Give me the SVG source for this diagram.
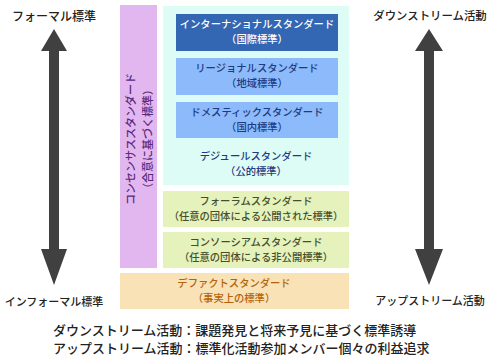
<svg xmlns="http://www.w3.org/2000/svg" width="490" height="360" viewBox="0 0 490 360">
<style>
text{font-family:"Noto Sans CJK JP","Noto Sans",sans-serif;}
.side{fill:#222;text-anchor:middle;font-weight:500;}
.bx{font-size:10.3px;text-anchor:middle;font-weight:500;}
.w{fill:#ffffff;}
.nv{fill:#1e3a80;}
.gr{fill:#454f2c;}
.or{fill:#b4620c;}
.pu{fill:#5a2a80;font-size:11px;text-anchor:middle;font-weight:500;}
.foot{font-size:13px;fill:#222;font-weight:500;}
.arrow{fill:#404040;}
</style>
<rect width="490" height="360" fill="#ffffff"/>
<g id="arrows">
<path class="arrow" d="M54,29 L67,51 L59,51 L59,249 L67,249 L54,285 L41,249 L49,249 L49,51 L41,51 Z"/>
<path class="arrow" d="M429,29 L443,51 L434,51 L434,249 L443,249 L429,285 L415,249 L424,249 L424,51 L415,51 Z"/>
</g>
<g id="labels">
<text class="side" x="54" y="21" font-size="12">フォーマル標準</text>
<text class="side" x="54" y="306" font-size="11">インフォーマル標準</text>
<text class="side" x="430" y="20" font-size="11.4">ダウンストリーム活動</text>
<text class="side" x="430" y="305" font-size="11">アップストリーム活動</text>
</g>
<g id="consensus">
<rect x="120" y="5" width="37" height="263" fill="#e2b6ee"/>
<g transform="translate(139,139) rotate(-90)">
<text class="pu" x="0" y="-4">コンセンサススタンダード</text>
<text class="pu" x="0" y="13">（合意に基づく標準）</text>
</g>
</g>
<g id="dejure">
<rect x="163" y="6" width="186" height="179" fill="#ddfcf6"/>
<text class="bx nv" x="256" y="160">デジュールスタンダード</text>
<text class="bx nv" x="256" y="175">（公的標準）</text>
</g>
<g id="international">
<rect x="176" y="14" width="162" height="37" fill="#3366b3"/>
<text class="bx w" x="257" y="28">インターナショナルスタンダード</text>
<text class="bx w" x="257" y="43">（国際標準）</text>
</g>
<g id="regional">
<rect x="176" y="58" width="162" height="37" fill="#8cbafa"/>
<text class="bx nv" x="257" y="72">リージョナルスタンダード</text>
<text class="bx nv" x="257" y="87">（地域標準）</text>
</g>
<g id="domestic">
<rect x="176" y="102" width="162" height="36" fill="#8cbafa"/>
<text class="bx nv" x="257" y="116">ドメスティックスタンダード</text>
<text class="bx nv" x="257" y="131">（国内標準）</text>
</g>
<g id="forum">
<rect x="163" y="191" width="186" height="36" fill="#e5f2bc"/>
<text class="bx gr" x="256" y="205">フォーラムスタンダード</text>
<text class="bx gr" x="256" y="220">（任意の団体による公開された標準）</text>
</g>
<g id="consortium">
<rect x="163" y="232" width="186" height="36" fill="#e5f2bc"/>
<text class="bx gr" x="256" y="246">コンソーシアムスタンダード</text>
<text class="bx gr" x="256" y="261">（任意の団体による非公開標準）</text>
</g>
<g id="defacto">
<rect x="120" y="273" width="229" height="36" fill="#f8e2b6"/>
<text class="bx or" x="234" y="287">デファクトスタンダード</text>
<text class="bx or" x="234" y="302">（事実上の標準）</text>
</g>
<g id="notes">
<text class="foot" x="53" y="335">ダウンストリーム活動：課題発見と将来予見に基づく標準誘導</text>
<text class="foot" x="53" y="353">アップストリーム活動：標準化活動参加メンバー個々の利益追求</text>
</g>
</svg>
